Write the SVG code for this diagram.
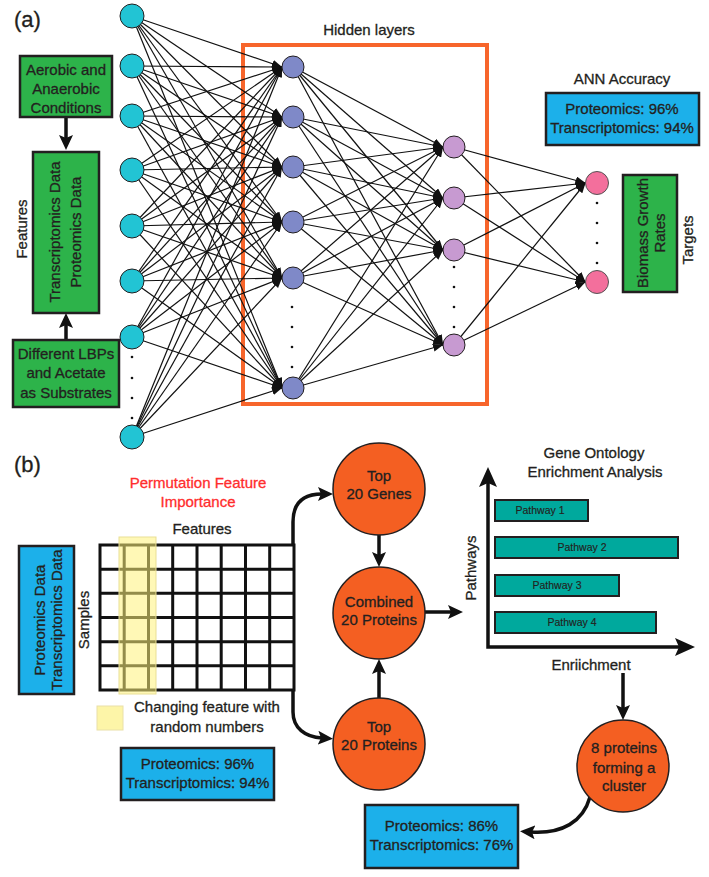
<svg xmlns="http://www.w3.org/2000/svg" width="709" height="877" viewBox="0 0 709 877">
<style>
text{font-family:"Liberation Sans",Arial,sans-serif;fill:#231f20;stroke:#231f20;stroke-width:0.3;}
.t{font-size:15px;text-anchor:middle;}
.s{font-size:10.5px;text-anchor:middle;stroke-width:0.15;}
.lab{font-size:22px;}
.red{fill:#ff2d2d;stroke:#ff2d2d;}
.net line{stroke:#111;stroke-width:1.2;marker-end:url(#ah);}
.thick{fill:none;stroke:#111;stroke-width:3.5;marker-end:url(#big);}
.cy{fill:#22c4d4;stroke:#231f20;stroke-width:1;}
.bl{fill:#7f89c8;stroke:#231f20;stroke-width:1;}
.pu{fill:#c79ad1;stroke:#231f20;stroke-width:1;}
.pk{fill:#f36f9c;stroke:#555;stroke-width:1;}
.dot{fill:#111;}
.gr{fill:#2db34a;stroke:#231f20;stroke-width:2.5;}
.bx{fill:#1cb0ea;stroke:#231f20;stroke-width:2.5;}
.oc{fill:#f45f22;stroke:#231f20;stroke-width:1.5;}
.bar{fill:#00a99d;stroke:#231f20;stroke-width:2;}
.grid{fill:none;stroke:#111;stroke-width:3;}
</style>
<defs>
<marker id="ah" markerWidth="10" markerHeight="8" refX="10" refY="4" orient="auto" markerUnits="userSpaceOnUse"><path d="M0,0 L10,4 L0,8 z" fill="#111"/></marker>
<marker id="big" markerWidth="16" markerHeight="14" refX="4" refY="7" orient="auto" markerUnits="userSpaceOnUse"><path d="M0,0 L15,7 L0,14 L3,7 z" fill="#111"/></marker>
<marker id="ax" markerWidth="21" markerHeight="18" refX="6" refY="9" orient="auto-start-reverse" markerUnits="userSpaceOnUse"><path d="M0,0 L20,9 L0,18 L4,9 z" fill="#111"/></marker>
</defs>
<rect width="709" height="877" fill="#fff"/>

<text class="lab" x="14" y="27">(a)</text>
<text class="lab" x="14" y="472">(b)</text>

<g id="hidden-box"><rect x="243" y="45" width="244" height="359" fill="none" stroke="#f7652b" stroke-width="4"/>
<text class="t" x="369" y="35">Hidden layers</text></g>

<g id="connectors">
<g class="net">
<line x1="132" y1="16" x2="282" y2="67"/><line x1="132" y1="16" x2="282" y2="117"/><line x1="132" y1="16" x2="282" y2="167"/><line x1="132" y1="16" x2="282" y2="222"/><line x1="132" y1="16" x2="282" y2="278"/><line x1="132" y1="16" x2="282" y2="388"/>
<line x1="132" y1="66" x2="282" y2="67"/><line x1="132" y1="66" x2="282" y2="117"/><line x1="132" y1="66" x2="282" y2="167"/><line x1="132" y1="66" x2="282" y2="222"/><line x1="132" y1="66" x2="282" y2="278"/><line x1="132" y1="66" x2="282" y2="388"/>
<line x1="132" y1="116" x2="282" y2="67"/><line x1="132" y1="116" x2="282" y2="117"/><line x1="132" y1="116" x2="282" y2="167"/><line x1="132" y1="116" x2="282" y2="222"/><line x1="132" y1="116" x2="282" y2="278"/><line x1="132" y1="116" x2="282" y2="388"/>
<line x1="132" y1="170" x2="282" y2="67"/><line x1="132" y1="170" x2="282" y2="117"/><line x1="132" y1="170" x2="282" y2="167"/><line x1="132" y1="170" x2="282" y2="222"/><line x1="132" y1="170" x2="282" y2="278"/><line x1="132" y1="170" x2="282" y2="388"/>
<line x1="132" y1="226" x2="282" y2="67"/><line x1="132" y1="226" x2="282" y2="117"/><line x1="132" y1="226" x2="282" y2="167"/><line x1="132" y1="226" x2="282" y2="222"/><line x1="132" y1="226" x2="282" y2="278"/><line x1="132" y1="226" x2="282" y2="388"/>
<line x1="132" y1="281" x2="282" y2="67"/><line x1="132" y1="281" x2="282" y2="117"/><line x1="132" y1="281" x2="282" y2="167"/><line x1="132" y1="281" x2="282" y2="222"/><line x1="132" y1="281" x2="282" y2="278"/><line x1="132" y1="281" x2="282" y2="388"/>
<line x1="132" y1="337" x2="282" y2="67"/><line x1="132" y1="337" x2="282" y2="117"/><line x1="132" y1="337" x2="282" y2="167"/><line x1="132" y1="337" x2="282" y2="222"/><line x1="132" y1="337" x2="282" y2="278"/><line x1="132" y1="337" x2="282" y2="388"/>
<line x1="132" y1="437" x2="282" y2="67"/><line x1="132" y1="437" x2="282" y2="117"/><line x1="132" y1="437" x2="282" y2="167"/><line x1="132" y1="437" x2="282" y2="222"/><line x1="132" y1="437" x2="282" y2="278"/><line x1="132" y1="437" x2="282" y2="388"/>
<line x1="293" y1="67" x2="443" y2="147"/><line x1="293" y1="67" x2="443" y2="198"/><line x1="293" y1="67" x2="443" y2="250"/><line x1="293" y1="67" x2="443" y2="345"/>
<line x1="293" y1="117" x2="443" y2="147"/><line x1="293" y1="117" x2="443" y2="198"/><line x1="293" y1="117" x2="443" y2="250"/><line x1="293" y1="117" x2="443" y2="345"/>
<line x1="293" y1="167" x2="443" y2="147"/><line x1="293" y1="167" x2="443" y2="198"/><line x1="293" y1="167" x2="443" y2="250"/><line x1="293" y1="167" x2="443" y2="345"/>
<line x1="293" y1="222" x2="443" y2="147"/><line x1="293" y1="222" x2="443" y2="198"/><line x1="293" y1="222" x2="443" y2="250"/><line x1="293" y1="222" x2="443" y2="345"/>
<line x1="293" y1="278" x2="443" y2="147"/><line x1="293" y1="278" x2="443" y2="198"/><line x1="293" y1="278" x2="443" y2="250"/><line x1="293" y1="278" x2="443" y2="345"/>
<line x1="293" y1="388" x2="443" y2="147"/><line x1="293" y1="388" x2="443" y2="198"/><line x1="293" y1="388" x2="443" y2="250"/><line x1="293" y1="388" x2="443" y2="345"/>
<line x1="454" y1="147" x2="585.5" y2="183"/><line x1="454" y1="147" x2="585.5" y2="282"/>
<line x1="454" y1="198" x2="585.5" y2="183"/><line x1="454" y1="198" x2="585.5" y2="282"/>
<line x1="454" y1="250" x2="585.5" y2="183"/><line x1="454" y1="250" x2="585.5" y2="282"/>
<line x1="454" y1="345" x2="585.5" y2="183"/><line x1="454" y1="345" x2="585.5" y2="282"/>
</g>
<path class="thick" d="M66,117 L66,139"/>
<path class="thick" d="M66,340 L66,324"/>
<path class="thick" d="M293,545 L293,522 C293,503 303,494 322,494"/>
<path class="thick" d="M293,690 L293,712 C293,728 305,737 322,738"/>
<path class="thick" d="M379,535 L379,556"/>
<path class="thick" d="M379,698 L379,670"/>
<path class="thick" d="M425,612 L452,612"/>
<path class="thick" d="M623,673 L623,709"/>
<path class="thick" d="M590,797 C583,822 562,834 531,832"/>
</g>

<g id="input-layer">
<circle class="cy" cx="132" cy="16" r="12"/><circle class="cy" cx="132" cy="66" r="12"/><circle class="cy" cx="132" cy="116" r="12"/><circle class="cy" cx="132" cy="170" r="12"/><circle class="cy" cx="132" cy="226" r="12"/><circle class="cy" cx="132" cy="281" r="12"/><circle class="cy" cx="132" cy="337" r="12"/><circle class="cy" cx="132" cy="437" r="12"/>
<circle class="dot" cx="132" cy="357" r="1.3"/><circle class="dot" cx="132" cy="378" r="1.3"/><circle class="dot" cx="132" cy="398" r="1.3"/><circle class="dot" cx="132" cy="418" r="1.3"/>
</g>
<g id="hidden-layer-1">
<circle class="bl" cx="293" cy="67" r="11"/><circle class="bl" cx="293" cy="117" r="11"/><circle class="bl" cx="293" cy="167" r="11"/><circle class="bl" cx="293" cy="222" r="11"/><circle class="bl" cx="293" cy="278" r="11"/><circle class="bl" cx="293" cy="388" r="11"/>
<circle class="dot" cx="292" cy="307" r="1.3"/><circle class="dot" cx="292" cy="327" r="1.3"/><circle class="dot" cx="292" cy="347" r="1.3"/><circle class="dot" cx="292" cy="367" r="1.3"/>
</g>
<g id="hidden-layer-2">
<circle class="pu" cx="454" cy="147" r="11"/><circle class="pu" cx="454" cy="198" r="11"/><circle class="pu" cx="454" cy="250" r="11"/><circle class="pu" cx="454" cy="345" r="11"/>
<circle class="dot" cx="454" cy="267" r="1.3"/><circle class="dot" cx="454" cy="287" r="1.3"/><circle class="dot" cx="454" cy="307" r="1.3"/><circle class="dot" cx="454" cy="327" r="1.3"/>
</g>
<g id="output-layer">
<circle class="pk" cx="597" cy="183" r="11.5"/><circle class="pk" cx="597" cy="282" r="11.5"/>
<circle class="dot" cx="597" cy="203" r="1.3"/><circle class="dot" cx="597" cy="223" r="1.3"/><circle class="dot" cx="597" cy="243" r="1.3"/><circle class="dot" cx="597" cy="263" r="1.3"/>
</g>

<g id="aerobic"><rect class="gr" x="20" y="56" width="92" height="61"/>
<text class="t" x="66" y="75">Aerobic and</text><text class="t" x="66" y="94">Anaerobic</text><text class="t" x="66" y="113">Conditions</text></g>
<g id="data-box"><rect class="gr" x="33" y="152" width="66" height="161"/>
<g transform="translate(66,232) rotate(-90)"><text class="t" x="0" y="-6">Transcriptomics Data</text><text class="t" x="0" y="15">Proteomics Data</text></g></g>
<g id="features-label"><text class="t" transform="translate(22,229) rotate(-90)" y="5">Features</text></g>
<g id="lbps"><rect class="gr" x="13" y="340" width="106" height="67"/>
<text class="t" x="66" y="359">Different LBPs</text><text class="t" x="66" y="378">and Acetate</text><text class="t" x="66" y="398">as Substrates</text></g>

<g id="ann-accuracy"><text class="t" x="622" y="84">ANN Accuracy</text>
<rect class="bx" x="546" y="93" width="153" height="52"/>
<text class="t" x="622" y="114">Proteomics: 96%</text><text class="t" x="622" y="133">Transcriptomics: 94%</text></g>
<g id="targets-box"><rect class="gr" x="623" y="175" width="54" height="117"/>
<g transform="translate(650,233) rotate(-90)"><text class="t" x="0" y="-2">Biomass Growth</text><text class="t" x="0" y="15">Rates</text></g>
<text class="t" transform="translate(688,240) rotate(-90)" y="5">Targets</text></g>

<g id="pfi-title"><text class="t red" x="198" y="488">Permutation Feature</text><text class="t red" x="198" y="507">Importance</text>
<text class="t" x="202" y="534">Features</text></g>
<g id="data-box-b"><rect class="bx" x="19" y="546" width="55" height="148"/>
<g transform="translate(46.5,620) rotate(-90)"><text class="t" x="0" y="-2">Proteomics Data</text><text class="t" x="0" y="15">Transcriptomics Data</text></g>
<text class="t" transform="translate(85,620) rotate(-90)" y="4">Samples</text></g>
<g id="grid">
<rect class="grid" x="100" y="545" width="194" height="145"/>
<path class="grid" d="M124.2,545V690M148.5,545V690M172.7,545V690M197,545V690M221.2,545V690M245.5,545V690M269.7,545V690M100,569.2H294M100,593.3H294M100,617.5H294M100,641.7H294M100,665.8H294"/>
<rect x="119" y="537" width="37" height="157" fill="#fff27a" fill-opacity="0.55" stroke="#e9df95" stroke-width="1"/>
</g>
<g id="legend"><rect x="97" y="706" width="26" height="24" fill="#fdf5a8" stroke="#e9e0a8" stroke-width="1"/>
<text class="t" x="207" y="712">Changing feature with</text><text class="t" x="207" y="732">random numbers</text></g>
<g id="acc-b"><rect class="bx" x="121" y="748" width="153" height="52"/>
<text class="t" x="197.5" y="769">Proteomics: 96%</text><text class="t" x="197.5" y="788">Transcriptomics: 94%</text></g>

<g id="top-genes"><circle class="oc" cx="379" cy="489" r="46"/><text class="t" x="379" y="481">Top</text><text class="t" x="379" y="499">20 Genes</text></g>
<g id="combined"><circle class="oc" cx="379" cy="613" r="46"/><text class="t" x="379" y="607">Combined</text><text class="t" x="379" y="625">20 Proteins</text></g>
<g id="top-proteins"><circle class="oc" cx="379" cy="744" r="46"/><text class="t" x="379" y="732">Top</text><text class="t" x="379" y="750">20 Proteins</text></g>

<g id="chart">
<text class="t" x="594" y="458">Gene Ontology</text><text class="t" x="595" y="477">Enrichment Analysis</text>
<path d="M488,481 L488,647 L681,647" fill="none" stroke="#111" stroke-width="3.5" marker-start="url(#ax)" marker-end="url(#ax)"/>
<rect class="bar" x="495" y="500" width="93" height="21"/><text class="s" x="540" y="514">Pathway 1</text>
<rect class="bar" x="495" y="537" width="183" height="21"/><text class="s" x="582" y="551">Pathway 2</text>
<rect class="bar" x="495" y="575" width="124" height="21"/><text class="s" x="557" y="589">Pathway 3</text>
<rect class="bar" x="495" y="612" width="161" height="21"/><text class="s" x="572" y="626">Pathway 4</text>
<text class="t" transform="translate(471,568) rotate(-90)" y="5">Pathways</text>
<text class="t" x="591" y="670">Enriichment</text>
</g>
<g id="cluster"><circle class="oc" cx="623" cy="766" r="46"/><text class="t" x="624" y="753">8 proteins</text><text class="t" x="624" y="773">forming a</text><text class="t" x="624" y="791">cluster</text></g>
<g id="acc-c"><rect class="bx" x="365" y="805" width="153" height="63"/>
<text class="t" x="441.5" y="831">Proteomics: 86%</text><text class="t" x="441.5" y="850">Transcriptomics: 76%</text></g>
</svg>
